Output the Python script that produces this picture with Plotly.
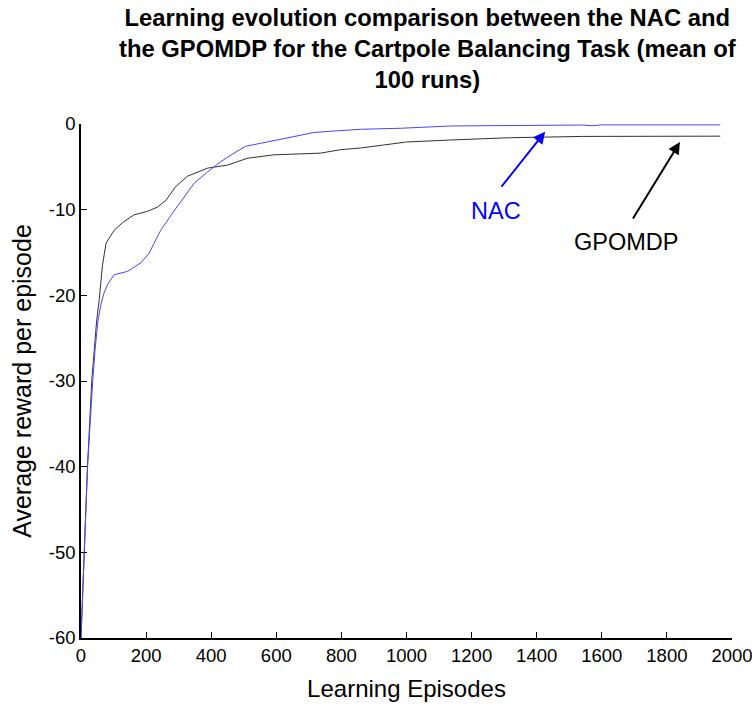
import plotly.graph_objects as go

# ---- data ----
gpomdp_episodes = [0, 9, 20, 33, 48, 56, 66, 77, 102, 128, 163, 204, 235, 261, 291, 327,
                   389, 450, 511, 593, 736, 797, 859, 930, 1000, 1135, 1319, 1543, 1964]
gpomdp_reward = [-60, -50, -40, -30, -23, -20.5, -16.5, -13.9, -12.4, -11.5, -10.6, -10.2,
                 -9.7, -8.9, -7.3, -6.1, -5.15, -4.8, -4.0, -3.6, -3.4, -3.0, -2.8, -2.45,
                 -2.1, -1.87, -1.6, -1.45, -1.42]

nac_episodes = [0, 9, 20, 36, 43, 52, 61, 70, 82, 102, 143, 184, 209, 230, 245, 281, 317,
                348, 389, 429, 470, 506, 552, 603, 664, 715, 776, 859, 981, 1135, 1543,
                1570, 1600, 1964]
nac_reward = [-60, -50, -40, -30, -26.4, -23, -21.1, -19.8, -18.7, -17.6, -17.2, -16.2,
              -15.1, -13.5, -12.4, -10.4, -8.5, -6.9, -5.6, -4.4, -3.4, -2.6, -2.25, -1.87,
              -1.4, -1.0, -0.82, -0.62, -0.5, -0.23, -0.12, -0.2, -0.1, -0.1]

x_ticks = [0, 200, 400, 600, 800, 1000, 1200, 1400, 1600, 1800, 2000]
y_ticks = [0, -10, -20, -30, -40, -50, -60]

title_text = ("Learning evolution comparison between the NAC and<br>"
              "the GPOMDP for the Cartpole Balancing Task (mean of<br>100 runs)")

FONT = "Liberation Sans, Arial, sans-serif"

fig = go.Figure()
fig.add_trace(go.Scatter(x=gpomdp_episodes, y=gpomdp_reward, mode="lines",
                         line=dict(color="rgb(50,50,50)", width=1), name="GPOMDP"))
fig.add_trace(go.Scatter(x=nac_episodes, y=nac_reward, mode="lines",
                         line=dict(color="rgb(70,70,255)", width=1), name="NAC"))

# arrows
fig.add_annotation(x=1426, y=-0.9, ax=1288, ay=-7.5, xref="x", yref="y", axref="x", ayref="y",
                   text="", showarrow=True, arrowhead=2, arrowsize=1.2, arrowwidth=2,
                   arrowcolor="rgb(0,0,255)")
fig.add_annotation(x=1840, y=-2.1, ax=1693, ay=-11.2, xref="x", yref="y", axref="x", ayref="y",
                   text="", showarrow=True, arrowhead=2, arrowsize=1.2, arrowwidth=2,
                   arrowcolor="black")
fig.add_annotation(x=1276, y=-10.1, xref="x", yref="y", text="NAC", showarrow=False,
                   font=dict(family=FONT, size=23.5, color="rgb(0,0,255)"))
fig.add_annotation(x=1675, y=-13.8, xref="x", yref="y", text="GPOMDP", showarrow=False,
                   font=dict(family=FONT, size=23.5, color="black"))

# title as a paper annotation
fig.add_annotation(x=0.533, y=1.237, xref="paper", yref="paper", xanchor="center",
                   yanchor="top", text="<b>" + title_text + "</b>", showarrow=False,
                   align="center", font=dict(family=FONT, size=23.8, color="black"))

fig.update_layout(
    width=752, height=715,
    margin=dict(l=81, r=20, t=124, b=77, autoexpand=False),
    paper_bgcolor="white", plot_bgcolor="white",
    showlegend=False,
    font=dict(family=FONT, color="black"),
)
fig.update_xaxes(range=[0, 2000], tickvals=x_ticks, ticktext=[str(v) for v in x_ticks],
                 ticks="inside", ticklen=6, tickcolor="black", showline=True, linecolor="black",
                 linewidth=1.5, showgrid=False, zeroline=False, mirror=False,
                 ticklabeloverflow="allow", automargin=False,
                 tickfont=dict(family=FONT, size=18.5, color="black"),
                 title=dict(text="Learning Episodes", font=dict(family=FONT, size=24, color="black"),
                            standoff=15))
fig.update_yaxes(range=[-60, 0], tickvals=y_ticks, ticktext=[str(v) for v in y_ticks],
                 ticks="inside", ticklen=6, tickcolor="black", showline=True, linecolor="black",
                 linewidth=1.5, showgrid=False, zeroline=False, mirror=False,
                 ticklabeloverflow="allow", automargin=False,
                 tickfont=dict(family=FONT, size=18.5, color="black"),
                 title=dict(text="Average reward per episode",
                            font=dict(family=FONT, size=25, color="black"), standoff=10))

fig.write_html("out.html", config={"displayModeBar": False},
               post_script="document.body.style.margin='0';document.body.style.padding='0';")
